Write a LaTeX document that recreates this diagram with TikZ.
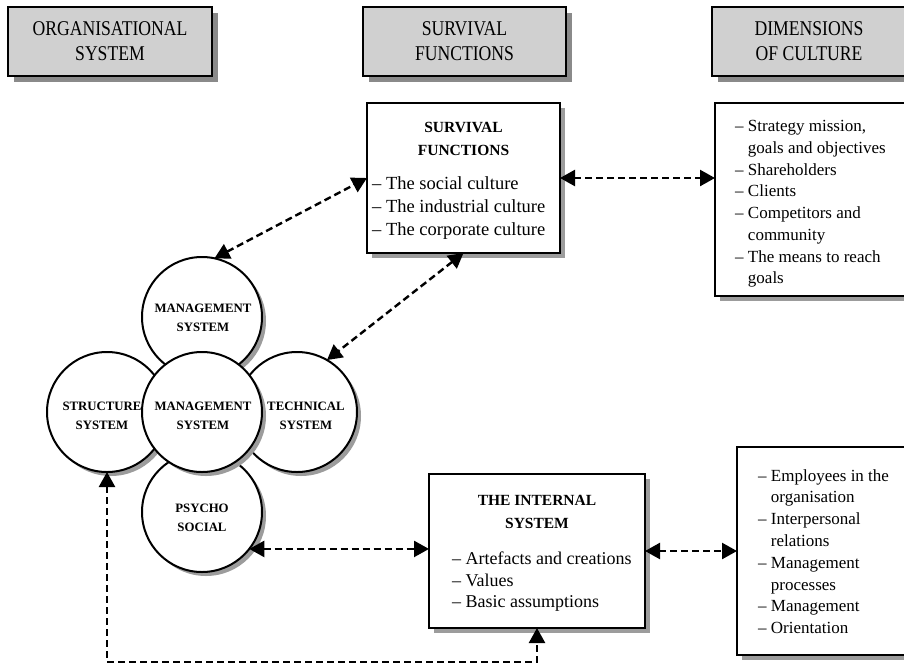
\documentclass[tikz,border=0pt]{standalone}
\usepackage{fontspec}
\setmainfont{Liberation Serif}
\newfontfamily\headfont[FakeStretch=0.84]{Liberation Serif}
\usetikzlibrary{arrows.meta,shadows}
\definecolor{headfill}{HTML}{D0D0D0}
\definecolor{headshade}{HTML}{8A8A8A}
\definecolor{shade}{HTML}{9C9C9C}
\begin{document}
\begin{tikzpicture}[x=1pt,y=-1pt,
  headbox/.style={draw=black,line width=2pt,fill=headfill,inner sep=0pt,outer sep=0pt,
    minimum height=69pt,align=center,
    font=\headfont\fontsize{21}{25}\selectfont,
    drop shadow={shadow xshift=6pt,shadow yshift=-6pt,fill=headshade,opacity=1}},
  mainbox/.style={draw=black,line width=2pt,fill=white,inner sep=0pt,outer sep=0pt,
    drop shadow={shadow xshift=5pt,shadow yshift=-5pt,fill=shade,opacity=1}},
  sysc/.style={circle,draw=black,line width=2pt,fill=white,minimum size=120pt,inner sep=0pt,outer sep=0pt,
    drop shadow={shadow xshift=4pt,shadow yshift=-4pt,fill=shade,opacity=1}},
  circtext/.style={align=center,inner sep=0pt,font=\bfseries\fontsize{12.8}{19}\selectfont},
  titletext/.style={align=center,inner sep=0pt,font=\bfseries\fontsize{15.5}{23}\selectfont},
  listtext/.style={align=left,inner sep=0pt,anchor=west},
  conn/.style={line width=2.4pt,dash pattern=on 7pt off 4pt,
    {Triangle[length=15pt,width=16pt]}-{Triangle[length=15pt,width=16pt]}}]
\useasboundingbox (0,0) rectangle (904,667);
\clip (0,0) rectangle (904,667);

% headers
\node[headbox,minimum width=204pt] (h1) at (110,41.5) {ORGANISATIONAL\\SYSTEM};
\node[headbox,minimum width=203pt] (h2) at (464.5,41.5) {SURVIVAL\\FUNCTIONS};
\node[headbox,minimum width=194pt] (h3) at (809,41.5) {DIMENSIONS\\OF CULTURE};

% boxes
\node[mainbox,minimum width=193pt,minimum height=150pt] (sf) at (463.5,178) {};
\node[mainbox,minimum width=191pt,minimum height=193pt] (dc) at (810.5,199.5) {};
\node[mainbox,minimum width=216pt,minimum height=154pt] (ib) at (537,551) {};
\node[mainbox,minimum width=169pt,minimum height=208pt] (lr) at (821.5,551) {};

\node[titletext] (sft) at (463.5,138.5) {SURVIVAL\\FUNCTIONS};
\node[listtext,font=\fontsize{18.5}{23}\selectfont] (sfb) at (372,208)
  {– The social culture\\– The industrial culture\\– The corporate culture};

\node[listtext,font=\fontsize{17}{21.7}\selectfont] (dcb) at (735,204)
  {– Strategy mission,\\\phantom{– }goals and objectives\\– Shareholders\\– Clients\\– Competitors and\\\phantom{– }community\\– The means to reach\\\phantom{– }goals};

\node[titletext] (ibt) at (537,511.5) {THE INTERNAL\\SYSTEM};
\node[listtext,font=\fontsize{18}{21.5}\selectfont] (ibb) at (452,582)
  {– Artefacts and creations\\– Values\\– Basic assumptions};

\node[listtext,font=\fontsize{17}{21.8}\selectfont] (lrb) at (758,551.5)
  {– Employees in the\\\phantom{– }organisation\\– Interpersonal\\\phantom{– }relations\\– Management\\\phantom{– }processes\\– Management\\– Orientation};

% circles
\node[sysc] (mtop) at (202,317) {};
\node[sysc] (struct) at (107,412) {};
\node[sysc] (tech) at (297,412) {};
\node[sysc] (psy) at (202,512) {};
\node[sysc] (mcen) at (202,412) {};

\node[circtext] (tmtop) at (203,318) {MANAGEMENT\\SYSTEM};
\node[circtext] (tmcen) at (203,416) {MANAGEMENT\\SYSTEM};
\node[circtext] (tstruct) at (102,416) {STRUCTURE\\SYSTEM};
\node[circtext] (ttech) at (306,416) {TECHNICAL\\SYSTEM};
\node[circtext] (tpsy) at (202,518) {PSYCHO\\SOCIAL};

% connectors
\coordinate (bot) at (0,662);
\draw[conn] (mtop.78) -- (sf.west);
\draw[conn] (sf.south) -- (tech.60);
\draw[conn] (sf.east) -- (sf.east -| dc.west);
\draw[conn] (psy.-38) -- (psy.-38 -| ib.west);
\draw[conn] (ib.east) -- (ib.east -| lr.west);
\draw[conn] (struct.south) -- (struct.south |- bot) -| (ib.south);
\end{tikzpicture}
\end{document}
